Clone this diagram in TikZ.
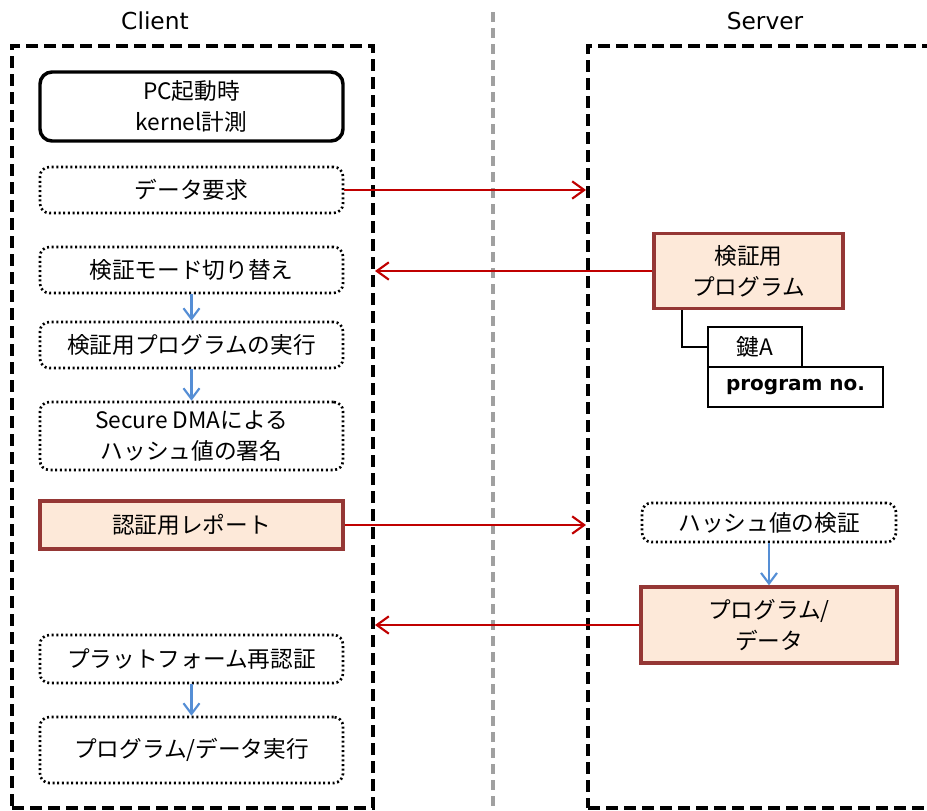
\documentclass[tikz,border=0pt]{standalone}
\usepackage{fontspec}
\setmainfont{Noto Sans CJK JP}
\newfontfamily\labfont{DejaVu Sans}
\usetikzlibrary{arrows.meta}
\definecolor{redline}{HTML}{C00000}
\definecolor{bluearrow}{HTML}{558ED5}
\definecolor{fillpink}{HTML}{FDE9D9}
\definecolor{borderred}{HTML}{953735}
\definecolor{midgray}{HTML}{A0A0A0}
\tikzset{
  txt/.style={font=\fontsize{17}{23}\selectfont, align=center, inner sep=0pt},
  dotbox/.style={txt, draw, line width=2pt, dash pattern=on 1.5pt off 2pt, rounded corners=7pt},
  solidbox/.style={txt, draw, line width=2.6pt, rounded corners=9pt},
  pinkbox/.style={txt, draw=borderred, fill=fillpink, line width=2.5pt},
  plainbox/.style={txt, draw, line width=1.8pt},
  zone/.style={draw, line width=3pt, dash pattern=on 9pt off 4.5pt, inner sep=0pt},
  lab/.style={font=\labfont\fontsize{17.5}{20}\selectfont, inner sep=0pt},
  redarrow/.style={draw=redline, line width=1.6pt, -{Straight Barb[length=9pt,width=13pt,line width=1.6pt]}},
  bluearr/.style={draw=bluearrow, line width=1.6pt, -{Straight Barb[length=8pt,width=12pt,line width=1.6pt]}},
}
\begin{document}
\begin{tikzpicture}[x=0.75pt,y=-0.75pt]
\useasboundingbox (0,0) rectangle (927,810);
% zones
\node[zone, minimum width=270.75pt, minimum height=571.5pt] (client) at (192.5,427) {};
\node[zone, minimum width=262.5pt, minimum height=571.5pt] (server) at (763,427) {};
\coordinate (gtop) at (493,12);
\coordinate (gbot) at (493,812);
\draw[midgray, line width=2.6pt, dash pattern=on 7.5pt off 4.5pt] (gtop) -- (gbot);
\node[lab] (clab) at (155,21) {Client};
\node[lab] (slab) at (765,21) {Server};
% client boxes
\node[solidbox, minimum width=227.25pt, minimum height=51.75pt] (pc) at (191.5,106.5) {PC起動時\\kernel計測};
\node[dotbox, minimum width=227.25pt, minimum height=34.5pt] (req) at (191.5,190) {データ要求};
\node[dotbox, minimum width=227.25pt, minimum height=34.5pt] (mode) at (191.5,270) {検証モード切り替え};
\node[dotbox, minimum width=227.25pt, minimum height=34.5pt] (exec) at (191.5,345) {検証用プログラムの実行};
\node[dotbox, minimum width=227.25pt, minimum height=51pt] (sdma) at (191.5,436) {Secure DMAによる\\ハッシュ値の署名};
\node[pinkbox, minimum width=227.25pt, minimum height=36pt] (rep) at (191.5,525) {認証用レポート};
\node[dotbox, minimum width=227.25pt, minimum height=36pt] (replat) at (191.5,659) {プラットフォーム再認証};
\node[dotbox, minimum width=227.25pt, minimum height=49.5pt] (run) at (191.5,750) {プログラム/データ実行};
% server boxes
\node[pinkbox, minimum width=141.75pt, minimum height=56.25pt] (vprog) at (748.5,271) {検証用\\プログラム};
\node[plainbox, minimum width=70.5pt, minimum height=30pt] (key) at (755,347) {鍵A};
\node[plainbox, minimum width=131.25pt, minimum height=30pt, font=\labfont\bfseries\fontsize{15}{18}\selectfont] (pno) at (795.5,387) {program no.};
\node[dotbox, minimum width=190.5pt, minimum height=29.25pt] (hv) at (769,522.5) {ハッシュ値の検証};
\node[pinkbox, minimum width=192pt, minimum height=57pt] (pd) at (769,625) {プログラム/\\データ};
% connectors
\draw[line width=1.6pt] (vprog.south -| 682,0) |- (key.west);
\draw[bluearr] (mode.south) -- (exec.north);
\draw[bluearr] (exec.south) -- (sdma.north);
\draw[bluearr] (replat.south) -- (run.north);
\draw[bluearr] (hv.south) -- (pd.north);
\draw[redarrow] (req.east) -- (req.east -| server.west);
\draw[redarrow] (vprog.west) -- (vprog.west -| client.east);
\draw[redarrow] (rep.east) -- (rep.east -| server.west);
\draw[redarrow] (pd.west) -- (pd.west -| client.east);
\end{tikzpicture}
\end{document}
